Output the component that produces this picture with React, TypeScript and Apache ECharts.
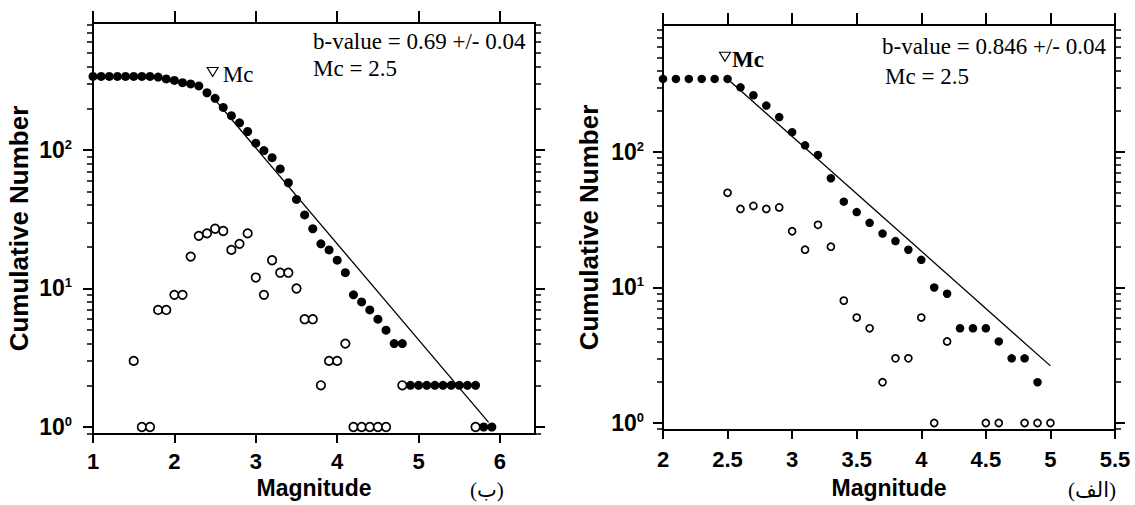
import { useEffect, useRef } from "react";
import * as echarts from "echarts";

// ---------- Panel (ب) : left ----------
const leftMag = [1.0, 1.1, 1.2, 1.3, 1.4, 1.5, 1.6, 1.7, 1.8, 1.9, 2.0, 2.1, 2.2, 2.3, 2.4, 2.5, 2.6, 2.7, 2.8, 2.9, 3.0, 3.1, 3.2, 3.3, 3.4, 3.5, 3.6, 3.7, 3.8, 3.9, 4.0, 4.1, 4.2, 4.3, 4.4, 4.5, 4.6, 4.7, 4.8, 4.9, 5.0, 5.1, 5.2, 5.3, 5.4, 5.5, 5.6, 5.7, 5.8, 5.9];
const leftCum = [340, 340, 340, 340, 340, 340, 340, 340, 336, 326, 318, 306, 300, 290, 259, 236, 203, 177, 157, 136, 112, 99, 88, 73, 58, 44, 34, 27, 21, 19, 16, 13, 9, 8, 7, 6, 5, 4, 4, 2, 2, 2, 2, 2, 2, 2, 2, 2, 1, 1];
const leftNonMag = [1.5, 1.6, 1.7, 1.8, 1.9, 2.0, 2.1, 2.2, 2.3, 2.4, 2.5, 2.6, 2.7, 2.8, 2.9, 3.0, 3.1, 3.2, 3.3, 3.4, 3.5, 3.6, 3.7, 3.8, 3.9, 4.0, 4.1, 4.2, 4.3, 4.4, 4.5, 4.6, 4.8, 5.7];
const leftNon = [3, 1, 1, 7, 7, 9, 9, 17, 24, 25, 27, 26, 19, 21, 25, 12, 9, 16, 13, 13, 10, 6, 6, 2, 3, 3, 4, 1, 1, 1, 1, 1, 2, 1];
const leftFitMag = [2.5, 5.86];
const leftFitN = [230, 1.08];
const leftMc = [2.47, 366];
const leftXTicks = [1, 2, 3, 4, 5, 6];

// ---------- Panel (الف) : right ----------
const rightMag = [2.0, 2.1, 2.2, 2.3, 2.4, 2.5, 2.6, 2.7, 2.8, 2.9, 3.0, 3.1, 3.2, 3.3, 3.4, 3.5, 3.6, 3.7, 3.8, 3.9, 4.0, 4.1, 4.2, 4.3, 4.4, 4.5, 4.6, 4.7, 4.8, 4.9];
const rightCum = [346, 346, 346, 346, 346, 346, 300, 262, 220, 181, 140, 112, 95, 64, 43, 36, 30, 25, 22, 19, 16, 10, 9, 5, 5, 5, 4, 3, 3, 2];
const rightNonMag = [2.5, 2.6, 2.7, 2.8, 2.9, 3.0, 3.1, 3.2, 3.3, 3.4, 3.5, 3.6, 3.7, 3.8, 3.9, 4.0, 4.1, 4.2, 4.5, 4.6, 4.8, 4.9, 5.0];
const rightNon = [50, 38, 40, 38, 39, 26, 19, 29, 20, 8, 6, 5, 2, 3, 3, 6, 1, 4, 1, 1, 1, 1, 1];
const rightFitMag = [2.5, 5.0];
const rightFitN = [346, 2.64];
const rightMc = [2.48, 505];
const rightXTicks = [2, 2.5, 3, 3.5, 4, 4.5, 5, 5.5];

const yMajor = [1, 10, 100];

const pairs = (xs: number[], ys: number[]) => xs.map((x, i) => [x, ys[i]]);

function minorTicks(min: number, max: number) {
  const out: number[] = [];
  for (let d = -1; d <= 3; d++) {
    for (let k = 2; k <= 9; k++) {
      const v = +(k * Math.pow(10, d)).toFixed(6);
      if (v >= min && v <= max) out.push(v);
    }
  }
  return out;
}

const SANS = '"Liberation Sans", Arial, sans-serif';
const SERIF = '"Liberation Serif", "Times New Roman", "DejaVu Sans", serif';

export default function App() {
  const ref = useRef<HTMLDivElement>(null);

  useEffect(() => {
    if (!ref.current) return;
    const chart = echarts.init(ref.current, null, { renderer: "svg" });

    const panels = [
      { grid: { left: 93, top: 23, width: 442, height: 411 }, xmin: 1, xmax: 6.43, xTicks: leftXTicks, ymin: 0.89, ymax: 826 },
      { grid: { left: 663, top: 25, width: 452, height: 405 }, xmin: 2, xmax: 5.5, xTicks: rightXTicks, ymin: 0.888, ymax: 865 },
    ];

    const xAxes: any[] = [];
    const yAxes: any[] = [];
    panels.forEach((p, g) => {
      const baseX = {
        gridIndex: g, type: "value", min: p.xmin, max: p.xmax,
        splitLine: { show: false },
        axisLine: { onZero: false, lineStyle: { color: "#000", width: 2 } },
      };
      xAxes.push({
        ...baseX, position: "bottom",
        name: "Magnitude", nameLocation: "middle", nameGap: g === 0 ? 42 : 46,
        nameTextStyle: { fontFamily: SANS, fontWeight: "bold", fontSize: 23, color: "#000" },
        axisTick: { inside: false, length: 9, customValues: p.xTicks, lineStyle: { color: "#000", width: 2 } },
        axisLabel: { customValues: p.xTicks, margin: g === 0 ? 16 : 18, fontFamily: SANS, fontWeight: "bold", fontSize: 22, color: "#000" },
      });
      xAxes.push({
        ...baseX, position: "top",
        axisTick: { inside: false, length: 12, customValues: p.xTicks, lineStyle: { color: "#000", width: 2 } },
        axisLabel: { show: false },
      });
      const baseY = {
        gridIndex: g, type: "log", logBase: 10, min: p.ymin, max: p.ymax,
        splitLine: { show: false },
        minorSplitLine: { show: false },
      };
      const minors = minorTicks(p.ymin, p.ymax);
      yAxes.push({
        ...baseY, position: "left",
        name: "Cumulative Number", nameLocation: "middle", nameGap: 61,
        nameTextStyle: { fontFamily: SANS, fontWeight: "bold", fontSize: 26, color: "#000" },
        axisLine: { show: true, onZero: false, lineStyle: { color: "#000", width: 2 } },
        axisTick: { show: true, inside: false, length: 10, customValues: yMajor, lineStyle: { color: "#000", width: 2 } },
        axisLabel: {
          customValues: yMajor, margin: g === 0 ? 21 : 19,
          formatter: (v: number) => `{b|10}{s|${Math.round(Math.log10(v))}}`,
          rich: {
            b: { fontFamily: SANS, fontWeight: "bold", fontSize: 23, color: "#000", lineHeight: 24 },
            s: { fontFamily: SANS, fontWeight: "bold", fontSize: 13, color: "#000", verticalAlign: "top", lineHeight: 13 },
          },
        },
      });
      yAxes.push({
        ...baseY, position: "right",
        axisLine: { show: true, onZero: false, lineStyle: { color: "#000", width: 2 } },
        axisTick: { show: true, inside: false, length: 10, customValues: yMajor, lineStyle: { color: "#000", width: 2 } },
        axisLabel: { show: false },
      });
      yAxes.push({
        ...baseY, position: "left",
        axisLine: { show: false },
        axisTick: { show: true, inside: false, length: 6, customValues: minors, lineStyle: { color: "#000", width: 1.5 } },
        axisLabel: { show: false },
      });
      yAxes.push({
        ...baseY, position: "right",
        axisLine: { show: false },
        axisTick: { show: true, inside: false, length: 6, customValues: minors, lineStyle: { color: "#000", width: 1.5 } },
        axisLabel: { show: false },
      });
    });

    const mkSeries = (g: number, cum: number[][], non: number[][], fit: number[][], mc: number[], dot: number, open: number, mcBold: boolean) => [
      {
        type: "scatter", xAxisIndex: g * 2, yAxisIndex: g * 4, data: non,
        symbol: "circle", symbolSize: open,
        itemStyle: { color: "#fff", borderColor: "#000", borderWidth: 1.7, opacity: 1 },
      },
      {
        type: "line", xAxisIndex: g * 2, yAxisIndex: g * 4, data: fit,
        symbol: "none", lineStyle: { color: "#000", width: 1.3 },
      },
      {
        type: "scatter", xAxisIndex: g * 2, yAxisIndex: g * 4, data: cum,
        symbol: "circle", symbolSize: dot, itemStyle: { color: "#000", opacity: 1 },
      },
      {
        type: "scatter", xAxisIndex: g * 2, yAxisIndex: g * 4, data: [mc],
        symbol: "triangle", symbolRotate: 180, symbolSize: [11, 9],
        itemStyle: { color: "#fff", borderColor: "#000", borderWidth: 1.1, opacity: 1 },
        label: {
          show: true, position: "right", distance: mcBold ? 1 : 4, offset: [0, 3],
          formatter: "Mc", fontFamily: SERIF, fontSize: 23, color: "#000", opacity: 1,
          fontWeight: mcBold ? "bold" : "normal",
        },
      },
    ];

    const txt = (x: number, y: number, text: string, size = 23) => ({
      type: "text", x, y,
      style: { text, font: `${size}px ${SERIF}`, fill: "#000", verticalAlign: "middle", textVerticalAlign: "middle" },
    });

    chart.setOption({
      animation: false,
      backgroundColor: "#fff",
      grid: panels.map((p) => ({ ...p.grid, containLabel: false })),
      xAxis: xAxes,
      yAxis: yAxes,
      series: [
        ...mkSeries(0, pairs(leftMag, leftCum), pairs(leftNonMag, leftNon), pairs(leftFitMag, leftFitN), leftMc, 9, 8.5, false),
        ...mkSeries(1, pairs(rightMag, rightCum), pairs(rightNonMag, rightNon), pairs(rightFitMag, rightFitN), rightMc, 8.5, 7, true),
      ],
      graphic: [
        txt(313, 41, "b-value = 0.69 +/- 0.04"),
        txt(313, 68, "Mc = 2.5"),
        txt(882, 46, "b-value = 0.846 +/- 0.04"),
        txt(885, 76, "Mc = 2.5"),
        txt(470, 490, "\u200E(ب)\u200E", 21),
        txt(1068, 490, "\u200E(الف)\u200E", 21),
      ],
    });

    return () => chart.dispose();
  }, []);

  return <div ref={ref} style={{ position: "fixed", left: 0, top: 0, width: 1135, height: 505 }} />;
}
